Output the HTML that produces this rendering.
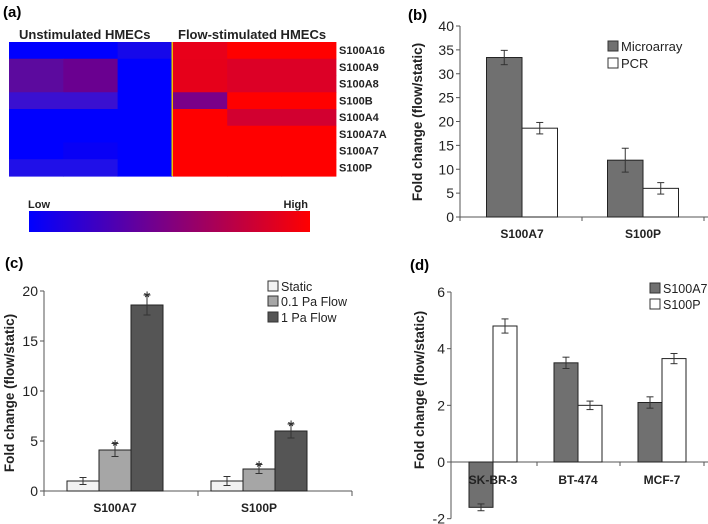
<!DOCTYPE html>
<html><head><meta charset="utf-8"><style>
body{margin:0;background:#fff;}
svg{display:block;font-family:"Liberation Sans",Arial,sans-serif;}
</style></head><body>
<svg id="fig" width="708" height="524" viewBox="0 0 708 524">
<text x="3" y="17" font-size="15" font-weight="bold">(a)</text>
<text x="19" y="39" font-size="13" font-weight="bold" fill="#222">Unstimulated HMECs</text>
<text x="178" y="39" font-size="13" font-weight="bold" fill="#222">Flow-stimulated HMECs</text>
<g id="heat"></g>
<defs><linearGradient id="cb" x1="0" x2="1"><stop offset="0" stop-color="#0000ff"/><stop offset="0.5" stop-color="#800080"/><stop offset="1" stop-color="#ff0000"/></linearGradient></defs>
<rect x="29" y="211" width="281" height="21" fill="url(#cb)"/>
<text x="28" y="208" font-size="11" font-weight="bold" fill="#222">Low</text>
<text x="308" y="208" font-size="11" font-weight="bold" fill="#222" text-anchor="end">High</text>
<text x="408" y="20" font-size="15" font-weight="bold">(b)</text>
<text x="5" y="268" font-size="15" font-weight="bold">(c)</text>
<text x="410" y="270" font-size="15" font-weight="bold">(d)</text>
<g id="pb"></g>
<g id="pc"></g>
<g id="pd"></g>
</svg>
<script>
const NS="http://www.w3.org/2000/svg";
// Heatmap data
const heatGenes=["S100A16","S100A9","S100A8","S100B","S100A4","S100A7A","S100A7","S100P"];
const heatColors=[
["#0000ff","#0000ff","#1608ea","#e8001a","#ff0000","#ff0000"],
["#5c0a9e","#6a0090","#0000ff","#e6001a","#dc0026","#dc0026"],
["#5c0a9e","#6a0090","#0000ff","#e6001a","#dc0026","#dc0026"],
["#3a10d0","#3a10d0","#0000ff","#7a0088","#ff0000","#ff0000"],
["#0000ff","#0000ff","#0000ff","#ff0000","#d20030","#d20030"],
["#0000ff","#0000ff","#0000ff","#ff0000","#ff0000","#ff0000"],
["#0000ff","#0800f6","#0000ff","#ff0000","#ff0000","#ff0000"],
["#2010e8","#2010e8","#0000ff","#ff0000","#ff0000","#ff0000"]];
// Panel b data
const bCats=["S100A7","S100P"];
const bMicro=[33.4,11.9], bMicroErr=[1.5,2.5];
const bPCR=[18.6,6.0], bPCRErr=[1.2,1.2];
const bTicks=[0,5,10,15,20,25,30,35,40];
// Panel c data
const cCats=["S100A7","S100P"];
const cStatic=[1.0,1.0], cStaticErr=[0.35,0.45];
const cLow=[4.1,2.2], cLowErr=[0.65,0.45];
const cHigh=[18.6,6.0], cHighErr=[1.0,0.7];
const cTicks=[0,5,10,15,20];
// Panel d data
const dCats=["SK-BR-3","BT-474","MCF-7"];
const dA7=[-1.6,3.5,2.1], dA7Err=[0.12,0.2,0.2];
const dP=[4.8,2.0,3.65], dPErr=[0.25,0.15,0.18];
const dTicks=[-2,0,2,4,6];

function el(parent,tag,attrs,text){const e=document.createElementNS(NS,tag);for(const k in attrs)e.setAttribute(k,attrs[k]);if(text!==undefined)e.textContent=text;parent.appendChild(e);return e;}

const heat=document.getElementById('heat');
const hx0=9,hy0=42,cw=54.3,rh=16.75;
heatColors.forEach((row,r)=>{row.forEach((c,ci)=>{
  const x=hx0+ci*cw+(ci>=3?1:0);
  const rc=el(heat,'rect',{x:x,y:hy0+r*rh,width:cw+0.6,height:rh+0.6,fill:c});
  
  
});
  const t=el(heat,'text',{x:339,y:hy0+r*rh+12,'font-size':11,'font-weight':'bold',fill:'#222'},heatGenes[r]);
  
  
});
const sep=el(heat,'rect',{x:171.5,y:hy0,width:1.5,height:8*rh,fill:'#e8c000'});



function errBar(g,cx,y1,y2){
  el(g,'line',{x1:cx,x2:cx,y1:y1,y2:y2,stroke:'#333','stroke-width':1});
  el(g,'line',{x1:cx-3.5,x2:cx+3.5,y1:y1,y2:y1,stroke:'#333','stroke-width':1});
  el(g,'line',{x1:cx-3.5,x2:cx+3.5,y1:y2,y2:y2,stroke:'#333','stroke-width':1});
}
function axisY(g,ax,yf,ticks){
  el(g,'line',{x1:ax,x2:ax,y1:yf(ticks[ticks.length-1]),y2:yf(ticks[0]),stroke:'#555','stroke-width':1});
  ticks.forEach(t=>{
    el(g,'line',{x1:ax-4,x2:ax,y1:yf(t),y2:yf(t),stroke:'#555'});
    const tx=el(g,'text',{x:ax-6,y:yf(t)+5,'font-size':14,'text-anchor':'end',fill:'#222'},String(t));
    
    
  });
}
function bar(g,x,w,v,yf,fill,name){
  const y0=yf(0),y=yf(v);
  const r=el(g,'rect',{x:x,y:Math.min(y,y0),width:w,height:Math.abs(y0-y),fill:fill,stroke:'#222','stroke-width':1});
  
  
}
function ylabel(g,x,y,txt){
  const t=el(g,'text',{x:x,y:y,'font-size':13.5,'font-weight':'bold','text-anchor':'middle',fill:'#222',transform:`rotate(-90 ${x} ${y})`},txt);
  
  
}
function legend(g,x,y,fill,txt,fs){
  el(g,'rect',{x:x,y:y-9,width:10,height:10,fill:fill,stroke:'#333'});
  const t=el(g,'text',{x:x+13,y:y+1,'font-size':fs,fill:'#222'},txt);
  
  
}

(function(){
  const g=document.getElementById('pb');
  const ax=460,y0=217,ppu=191/40;const yf=v=>y0-v*ppu;
  const centers=[522,643],bw=35.5;
  axisY(g,ax,yf,bTicks);
  el(g,'line',{x1:ax,x2:708,y1:y0,y2:y0,stroke:'#555'});
  [ax,582,704].forEach(x=>el(g,'line',{x1:x,x2:x,y1:y0,y2:y0+4,stroke:'#555'}));
  bCats.forEach((c,i)=>{
    const cx=centers[i];
    bar(g,cx-bw,bw,bMicro[i],yf,'#707070','bar-microarray');
    bar(g,cx,bw,bPCR[i],yf,'#ffffff','bar-pcr');
    errBar(g,cx-bw/2,yf(bMicro[i]+bMicroErr[i]),yf(bMicro[i]-bMicroErr[i]));
    errBar(g,cx+bw/2,yf(bPCR[i]+bPCRErr[i]),yf(bPCR[i]-bPCRErr[i]));
    const t=el(g,'text',{x:cx,y:238,'font-size':12,'font-weight':'bold','text-anchor':'middle',fill:'#222'},c);
    
    
  });
  ylabel(g,422,122,'Fold change (flow/static)');
  legend(g,608,50,'#707070','Microarray',13);
  legend(g,608,67,'#ffffff','PCR',13);
})();

(function(){
  const g=document.getElementById('pc');
  const ax=44,y0=491,ppu=10;const yf=v=>y0-v*ppu;
  const centers=[115,259],bw=32;
  axisY(g,ax,yf,cTicks);
  el(g,'line',{x1:ax,x2:352,y1:y0,y2:y0,stroke:'#555'});
  [ax,198,352].forEach(x=>el(g,'line',{x1:x,x2:x,y1:y0,y2:y0+5,stroke:'#555'}));
  cCats.forEach((c,i)=>{
    const cx=centers[i];
    const sets=[[cStatic,cStaticErr,'#f2f2f2','bar-static',false],[cLow,cLowErr,'#a6a6a6','bar-0.1pa-flow',true],[cHigh,cHighErr,'#555555','bar-1pa-flow',true]];
    sets.forEach((s,k)=>{
      const x=cx-1.5*bw+k*bw;
      bar(g,x,bw,s[0][i],yf,s[2],s[3]);
      errBar(g,x+bw/2,yf(s[0][i]+s[1][i]),yf(s[0][i]-s[1][i]));
      if(s[4]){
        const a=el(g,'text',{x:x+bw/2,y:yf(s[0][i]+s[1][i])+8,'font-size':17,'text-anchor':'middle',fill:'#333'},'*');
        
        
      }
    });
    const t=el(g,'text',{x:cx,y:512,'font-size':12,'font-weight':'bold','text-anchor':'middle',fill:'#222'},c);
    
    
  });
  ylabel(g,14,393,'Fold change (flow/static)');
  legend(g,268,290,'#f2f2f2','Static',12.5);
  legend(g,268,305,'#a6a6a6','0.1 Pa Flow',12.5);
  legend(g,268,321,'#555555','1 Pa Flow',12.5);
})();

(function(){
  const g=document.getElementById('pd');
  const ax=451,y0=462,ppu=170/6;const yf=v=>y0-v*ppu;
  const centers=[493,578,662],bw=24;
  axisY(g,ax,yf,dTicks);
  el(g,'line',{x1:ax,x2:708,y1:y0,y2:y0,stroke:'#555'});
  [537,620,704].forEach(x=>el(g,'line',{x1:x,x2:x,y1:y0,y2:y0+4,stroke:'#555'}));
  dCats.forEach((c,i)=>{
    const cx=centers[i];
    bar(g,cx-bw,bw,dA7[i],yf,'#707070','bar-s100a7');
    bar(g,cx,bw,dP[i],yf,'#ffffff','bar-s100p');
    errBar(g,cx-bw/2,yf(dA7[i]+dA7Err[i]),yf(dA7[i]-dA7Err[i]));
    errBar(g,cx+bw/2,yf(dP[i]+dPErr[i]),yf(dP[i]-dPErr[i]));
    const t=el(g,'text',{x:cx,y:484,'font-size':12,'font-weight':'bold','text-anchor':'middle',fill:'#222'},c);
    
    
  });
  ylabel(g,424,390,'Fold change (flow/static)');
  legend(g,650,292,'#707070','S100A7',12.5);
  legend(g,650,308,'#ffffff','S100P',12.5);
})();
</script>
</body></html>
